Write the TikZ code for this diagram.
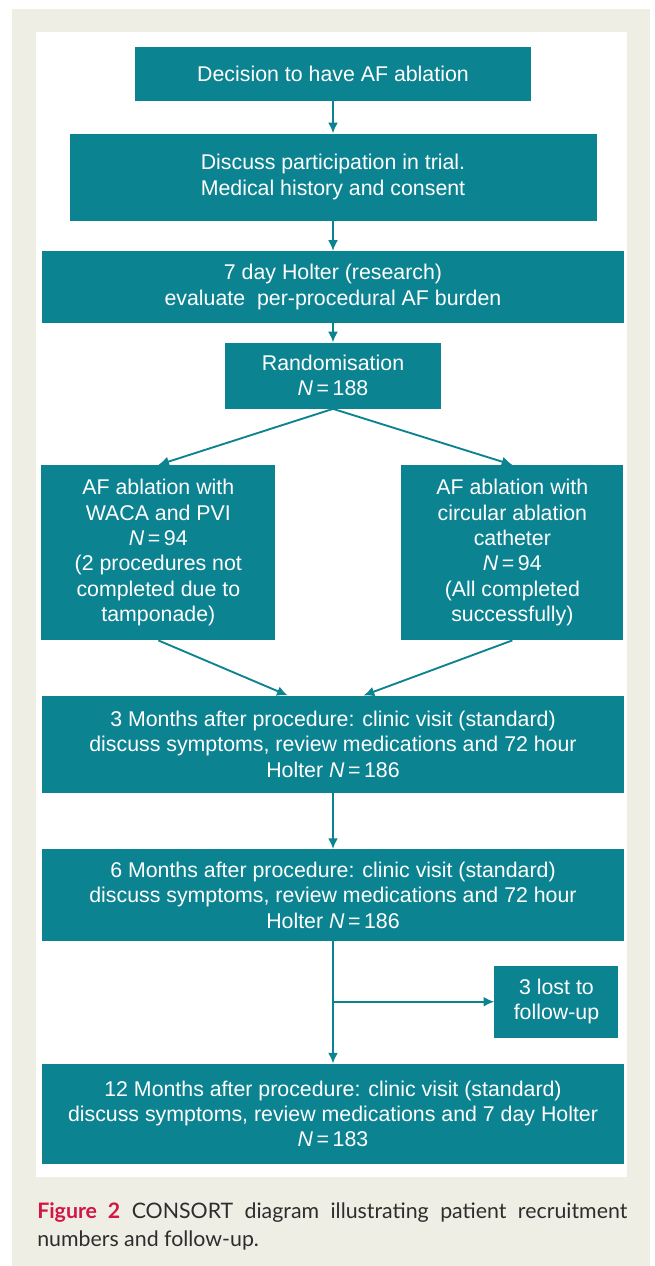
\documentclass[tikz,border=0pt]{standalone}
\usepackage{fontspec}
\setmainfont{Liberation Sans}
\newfontfamily\captionfont{Lato}
\usetikzlibrary{positioning,arrows.meta}

\definecolor{trialteal}{RGB}{12,131,145}
\definecolor{pagebeige}{RGB}{239,238,228}
\definecolor{figred}{RGB}{210,22,70}
\definecolor{captiongray}{RGB}{45,45,45}

\tikzset{
  stage/.style={rectangle, fill=trialteal, text=white, align=center, inner sep=2pt,
    font=\fontsize{16}{19}\selectfont},
  flow/.style={draw=trialteal, line width=1.4pt, -{Latex[length=8pt,width=7.5pt]}},
}

\begin{document}
\begin{tikzpicture}[x=0.75pt, y=-0.75pt]

\useasboundingbox (0,0) rectangle (654,1266);
\fill[pagebeige] (12,9) rectangle (650,1266);
\fill[white] (36,32) rectangle (627,1177);

\node (decide) [stage, minimum width=297pt, minimum height=40.5pt] at (333,74) {Decision to have AF ablation};
\node (consent) [stage, minimum width=395.25pt, minimum height=65.25pt, below=24pt of decide] {Discuss participation in trial.\\ Medical history and consent};
\node (holter) [stage, minimum width=436.5pt, minimum height=54pt, below=22.5pt of consent] {7 day Holter (research)\\ evaluate\ \ per-procedural AF burden};
\node (rand) [stage, minimum width=162pt, minimum height=49.5pt, below=14.25pt of holter] {Randomisation\\ \textit{N}\,=\,188};

\node (wacapvi) [stage, minimum width=175.5pt, minimum height=131.25pt, below=42pt of rand, xshift=-131pt] {AF ablation with\\ WACA and PVI\\ \textit{N}\,=\,94\\ (2 procedures not\\ completed due to\\ tamponade)};
\node (circular) [stage, minimum width=166.5pt, minimum height=131.25pt, below=42pt of rand, xshift=134.5pt] {AF ablation with\\ circular ablation\\ catheter\\ \textit{N}\,=\,94\\ (All completed\\ successfully)};

\node (month3) [stage, minimum width=436.5pt, minimum height=72.75pt, anchor=north, yshift=-41.25pt] at (wacapvi.south -| rand.south) {3 Months after procedure: clinic visit (standard)\\ discuss symptoms, review medications and 72 hour\\ Holter \textit{N}\,=\,186};
\node (month6) [stage, minimum width=436.5pt, minimum height=69pt, below=42pt of month3] {6 Months after procedure: clinic visit (standard)\\ discuss symptoms, review medications and 72 hour\\ Holter \textit{N}\,=\,186};
\node (lost) [stage, minimum width=93pt, minimum height=54pt, anchor=north, xshift=167.6pt, yshift=-18pt] at (month6.south) {3 lost to\\ follow-up};
\node (month12) [stage, minimum width=436.5pt, minimum height=75pt, below=91.5pt of month6] {12 Months after procedure: clinic visit (standard)\\ discuss symptoms, review medications and 7 day Holter\\ \textit{N}\,=\,183};

\coordinate (split) at (month6.south |- lost.west);

\draw[flow] (decide) -- (consent);
\draw[flow] (consent) -- (holter);
\draw[flow] (holter) -- (rand);
\draw[flow] (rand.south) -- (wacapvi.north);
\draw[flow] (rand.south) -- (circular.north);
\draw[flow] (wacapvi.south) -- ([xshift=-34pt]month3.north);
\draw[flow] (circular.south) -- ([xshift=23pt]month3.north);
\draw[flow] (month3) -- (month6);
\draw[flow] (month6) -- (month12);
\draw[flow] (split) -- (lost);

\node (caption) [anchor=north west, text width=442.5pt, align=justify, inner sep=0pt, text=captiongray,
  font=\captionfont\fontsize{16}{21}\selectfont] at (37,1202)
  {\textcolor{figred}{\textbf{Figure 2}} CONSORT diagram illustrating patient recruitment\linebreak numbers and follow-up.};

\end{tikzpicture}
\end{document}
